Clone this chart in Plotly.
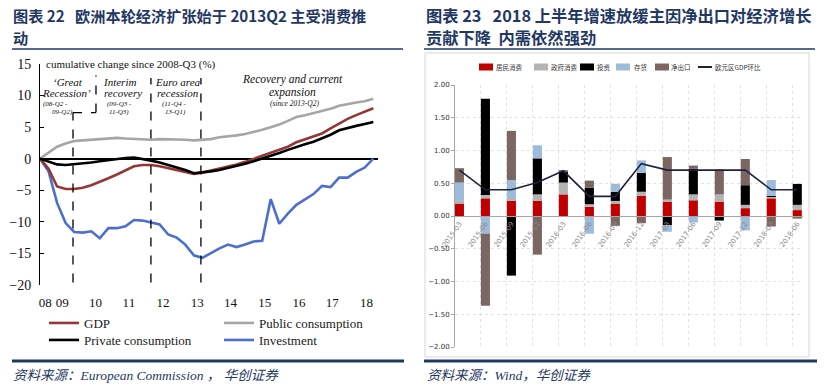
import plotly.graph_objects as go

W, H = 832, 386
def fx(px): return px / W
def fy(py): return 1 - py / H

# ---------------- Figure 22 (left): cumulative change since 2008-Q3 (%) ----------------
quarters = [f"{y}Q{q}" for y in range(2008, 2019) for q in range(1, 5)][2:42]  # 2008Q3 .. 2018Q2
gdp = [0, -1.6, -4.4, -4.8, -4.8, -4.6, -4.2, -3.7, -3.1, -2.5,
       -1.8, -1.2, -1.0, -1.0, -1.2, -1.5, -1.8, -2.1, -2.4, -2.2,
       -1.9, -1.6, -1.2, -0.9, -0.5, 0.0, 0.5, 0.9, 1.4, 1.9,
       2.6, 3.1, 3.5, 4.0, 4.8, 5.6, 6.3, 6.9, 7.5, 8.0]
public_consumption = [0, 1.0, 1.9, 2.4, 2.8, 2.9, 3.0, 3.2, 3.3, 3.3,
                      3.2, 3.1, 3.0, 3.0, 3.1, 3.1, 3.0, 3.0, 2.9, 3.0,
                      3.1, 3.4, 3.5, 3.7, 3.9, 4.2, 4.6, 5.0, 5.4, 6.0,
                      6.6, 6.9, 7.2, 7.5, 7.9, 8.4, 8.7, 8.9, 9.1, 9.5]
private_consumption = [0, -0.5, -0.9, -1.0, -0.9, -0.7, -0.6, -0.4, -0.2, 0.0,
                       0.1, 0.2, 0.0, -0.3, -0.6, -1.0, -1.3, -1.8, -2.3, -2.2,
                       -2.0, -1.8, -1.5, -1.2, -0.8, -0.4, 0.0, 0.4, 0.9, 1.4,
                       1.9, 2.3, 2.7, 3.2, 3.8, 4.5, 4.9, 5.2, 5.5, 5.8]
investment = [0, -2.0, -7.0, -10.2, -11.6, -11.7, -11.5, -12.6, -11.0, -11.0,
              -10.7, -9.7, -9.8, -10.1, -10.4, -12.0, -12.5, -13.6, -15.3, -15.7,
              -14.9, -14.2, -13.6, -14.0, -13.6, -13.1, -13.0, -6.4, -10.3, -8.7,
              -7.3, -6.5, -5.6, -4.3, -4.5, -3.0, -3.0, -2.1, -1.4, 0.0]
year_ticks = ["08", "09", "10", "11", "12", "13", "14", "15", "16", "17", "18"]
year_tick_pos = [0.6, 2.6, 6.5, 10.4, 14.4, 18.4, 22.3, 26.3, 30.3, 34.2, 38.2]

# ---------------- Figure 23 (right): contributions to euro-area GDP growth ----------------
periods = ["2015-03", "2015-06", "2015-09", "2015-12", "2016-03", "2016-06", "2016-09",
           "2016-12", "2017-03", "2017-06", "2017-09", "2017-12", "2018-03", "2018-06"]
household = [0.19, 0.27, 0.23, 0.23, 0.33, 0.14, 0.19, 0.31, 0.22, 0.24, 0.22, 0.12, 0.27, 0.09]
government = [0.04, 0.05, 0.03, 0.10, 0.18, 0.04, 0.04, 0.06, 0.03, 0.09, 0.11, 0.05, 0.02, 0.08]
invest = [0.00, 1.47, -0.91, 0.55, 0.17, 0.25, 0.14, 0.29, -0.14, 0.39, -0.07, 0.30, 0.02, 0.32]
inventories = [0.28, -0.27, 0.29, 0.20, 0.00, -0.27, 0.12, 0.19, -0.10, -0.10, 0.00, -0.22, 0.24, 0.00]
net_exports = [0.22, -1.10, 0.75, -0.59, 0.02, 0.11, -0.15, -0.11, 0.65, 0.05, 0.38, 0.40, -0.16, -0.04]
ea_gdp_qoq = [0.70, 0.40, 0.40, 0.51, 0.69, 0.30, 0.30, 0.80, 0.70, 0.70, 0.70, 0.70, 0.40, 0.40]

NAVY = "#1f3864"
SERIF = "Liberation Serif"
CJK = "Noto Sans CJK SC"

fig = go.Figure()
qx = list(range(len(quarters)))

left_series = [
    ("Public consumption", public_consumption, "#a6a6a6", "legend", 2),
    ("Investment", investment, "#4a6fd0", "legend2", 2),
    ("GDP", gdp, "#953735", "legend", 1),
    ("Private consumption", private_consumption, "#000000", "legend2", 1),
]
for name, vals, col, leg, rank in left_series:
    fig.add_trace(go.Scatter(x=qx, y=vals, name=name, mode="lines",
                             line=dict(color=col, width=2.6), xaxis="x", yaxis="y",
                             legend=leg, legendrank=rank, hoverinfo="skip"))

px_idx = list(range(len(periods)))
bar_series = [
    ("居民消费", household, "#c00000"),
    ("政府消费", government, "#b4b4b4"),
    ("投资", invest, "#000000"),
    ("存货", inventories, "#9dbcd9"),
    ("净出口", net_exports, "#7b6662"),
]
for name, vals, col in bar_series:
    fig.add_trace(go.Bar(x=px_idx, y=vals, name=name, marker=dict(color=col, line=dict(width=0)),
                         width=0.35, xaxis="x2", yaxis="y2", showlegend=False))
fig.add_trace(go.Scatter(x=px_idx, y=ea_gdp_qoq, name="欧元区GDP环比", mode="lines",
                         line=dict(color="#1c2240", width=1.6), xaxis="x2", yaxis="y2",
                         showlegend=False))

# axis geometry
yd_left = [fy(285), fy(64)]
xd_left = [fx(40), fx(378)]
zero_pos_left = yd_left[0] + (0 - (-20)) / 35 * (yd_left[1] - yd_left[0])
xd_right = [fx(455), fx(803)]
yd_right = [fy(347), fy(85)]
zero_pos_right = yd_right[0] + 0.5 * (yd_right[1] - yd_right[0])
xr_left = [0, 39.55]

fig.update_layout(
    template="none",
    width=W, height=H, margin=dict(l=0, r=0, t=0, b=0, pad=0, autoexpand=False),
    paper_bgcolor="white", plot_bgcolor="rgba(0,0,0,0)",
    barmode="relative",
    xaxis=dict(domain=xd_left, range=xr_left, anchor="y", showline=False, showgrid=False,
               zeroline=False, ticks="", tickvals=year_tick_pos, ticktext=year_ticks,
               automargin=False,
               tickfont=dict(family=SERIF, size=13, color="#111"), ticklabelstandoff=8),
    xaxis3=dict(overlaying="x", anchor="free", position=zero_pos_left, range=xr_left,
                showline=False, showgrid=False, zeroline=False, ticks="inside", ticklen=4,
                tickwidth=1, tickcolor="#000", tickvals=qx, showticklabels=False,
                automargin=False),
    yaxis=dict(domain=yd_left, range=[-20, 15], anchor="x", showline=True, linecolor="#000",
               linewidth=1, ticks="inside", ticklen=4, tickcolor="#000",
               tickvals=[-20, -15, -10, -5, 0, 5, 10, 15], showgrid=False,
               zeroline=True, zerolinecolor="#000", zerolinewidth=1.8, automargin=False,
               tickfont=dict(family=SERIF, size=14, color="#111"), ticklabelstandoff=5),
    xaxis2=dict(domain=xd_right, range=[-0.17, 13.22], anchor="free", position=zero_pos_right,
                showline=True, linecolor="#a6a6a6", linewidth=1, zeroline=False,
                tickvals=px_idx, ticktext=periods, tickangle=-55, ticks="",
                tickfont=dict(family="DejaVu Sans", size=7, color="#8a8a8a"),
                showgrid=False, automargin=False,
                minor=dict(tickvals=[i - 0.17 for i in px_idx], showgrid=True,
                           gridcolor="#e2e2e2", griddash="dot", gridwidth=1, ticks="")),
    yaxis2=dict(domain=yd_right, range=[-2, 2], anchor="x2", showline=True, linecolor="#a6a6a6",
                linewidth=1, ticks="outside", ticklen=3, tickcolor="#a6a6a6",
                tickvals=[-2, -1.5, -1, -0.5, 0, 0.5, 1, 1.5, 2], tickformat=".2f",
                showgrid=True, gridcolor="#e2e2e2", griddash="dot", gridwidth=1,
                zeroline=False, automargin=False,
                tickfont=dict(family="DejaVu Sans", size=7, color="#333")),
    legend=dict(x=fx(44), y=fy(323), xanchor="left", yanchor="middle", orientation="h",
                entrywidth=130, itemwidth=30, bgcolor="rgba(0,0,0,0)", borderwidth=0,
                font=dict(family=SERIF, size=13, color="#222")),
    legend2=dict(x=fx(44), y=fy(340), xanchor="left", yanchor="middle", orientation="h",
                 entrywidth=130, itemwidth=30, bgcolor="rgba(0,0,0,0)", borderwidth=0,
                 font=dict(family=SERIF, size=13, color="#222")),
    showlegend=True,
    hovermode=False,
)

shapes = []
# dashed phase separators (left chart, data coords)
dash = dict(color="#000", width=1.3, dash="dash")
shapes += [
    dict(type="line", xref="x", yref="y", x0=3.86, x1=3.86, y0=-19.6, y1=7.3, line=dash),
    dict(type="line", xref="x", yref="y", x0=3.86, x1=6.55, y0=7.3, y1=7.3, line=dash),
    dict(type="line", xref="x", yref="y", x0=6.55, x1=6.55, y0=7.3, y1=13.2, line=dash),
    dict(type="line", xref="x", yref="y", x0=12.98, x1=12.98, y0=-19.6, y1=12.8, line=dash),
    dict(type="line", xref="x", yref="y", x0=18.83, x1=18.83, y0=-19.6, y1=12.8, line=dash),
]
# title underlines and bottom rules
for x0, x1 in [(12, 403), (424, 815)]:
    shapes.append(dict(type="line", xref="paper", yref="paper", x0=fx(x0), x1=fx(x1),
                       y0=fy(49), y1=fy(49), line=dict(color=NAVY, width=1.5)))
for x0, x1 in [(12, 404), (424, 817)]:
    shapes.append(dict(type="line", xref="paper", yref="paper", x0=fx(x0), x1=fx(x1),
                       y0=fy(361), y1=fy(361), line=dict(color=NAVY, width=3)))
# right chart frame
shapes.append(dict(type="rect", xref="paper", yref="paper", x0=fx(425), x1=fx(809),
                   y0=fy(357), y1=fy(53), line=dict(color="#d6d6d6", width=1), layer="below"))

annotations = []
def note(px, py, text, size, family=SERIF, color="#111", xanchor="center", italic=False, bold=False):
    if italic:
        text = f"<i>{text}</i>"
    if bold:
        text = f"<b>{text}</b>"
    annotations.append(dict(xref="paper", yref="paper", x=fx(px), y=fy(py), text=text,
                            showarrow=False, xanchor=xanchor, yanchor="middle",
                            borderpad=0, font=dict(family=family, size=size, color=color)))

# titles
note(12, 15, "图表 22   欧洲本轮经济扩张始于 2013Q2 主受消费推", 15.2, CJK, NAVY, "left", bold=True)
note(12, 37, "动", 15.2, CJK, NAVY, "left", bold=True)
note(425, 15, "图表 23   2018 上半年增速放缓主因净出口对经济增长", 16.3, CJK, NAVY, "left", bold=True)
note(425, 37, "贡献下降  内需依然强劲", 16.3, CJK, NAVY, "left", bold=True)
# sources
note(12, 375, "资料来源：European Commission ， 华创证券", 13.5, f"{SERIF}, {CJK}", NAVY, "left", italic=True)
note(426, 375, "资料来源：Wind，华创证券", 13.5, f"{SERIF}, {CJK}", NAVY, "left", italic=True)

# left chart texts
note(45, 64, "cumulative change since 2008-Q3 (%)", 11, SERIF, "#111", "left")
note(68, 82, "‘Great", 11, italic=True)
note(66, 93, "Recession’", 11, italic=True)
note(55, 103.5, "(08-Q2 -", 7, italic=True)
note(62, 112.5, "09-Q2)", 7, italic=True)
note(120, 82, "Interim", 11, italic=True)
note(123, 93, "recovery", 11, italic=True)
note(119, 103.5, "(09-Q3 -", 7, italic=True)
note(119, 112.5, "11-Q3)", 7, italic=True)
note(178, 82, "Euro area", 11, italic=True)
note(178, 93, "recession", 11, italic=True)
note(174, 103.5, "(11-Q4 -", 7, italic=True)
note(175, 112.5, "13-Q1)", 7, italic=True)
note(292, 80, "Recovery and current", 11.5, italic=True)
note(292, 92.5, "expansion", 11.5, italic=True)
note(294, 103.5, "(since 2013-Q2)", 7.5, italic=True)

# right chart legend (manual keys)
legend_items = [(479, 495, "居民消费", "#c00000"), (534, 550, "政府消费", "#b4b4b4"),
                (580, 596, "投资", "#000000"), (616, 633, "存货", "#9dbcd9"),
                (655, 670, "净出口", "#7b6662")]
for kx, tx, label, col in legend_items:
    shapes.append(dict(type="rect", xref="paper", yref="paper", x0=fx(kx), x1=fx(kx + 14),
                       y0=fy(70.5), y1=fy(63.5), line=dict(width=0), fillcolor=col))
    note(tx, 67, label, 6.5, CJK, "#333", "left")
shapes.append(dict(type="line", xref="paper", yref="paper", x0=fx(698), x1=fx(712),
                   y0=fy(67), y1=fy(67), line=dict(color="#1c2240", width=2)))
note(714, 67, "欧元区GDP环比", 6.5, CJK, "#333", "left")

fig.update_layout(shapes=shapes, annotations=annotations)
fig.write_html("out.html",
               config={"displayModeBar": False, "staticPlot": True},
               post_script="document.body.style.margin='0';document.body.style.overflow='hidden';")
